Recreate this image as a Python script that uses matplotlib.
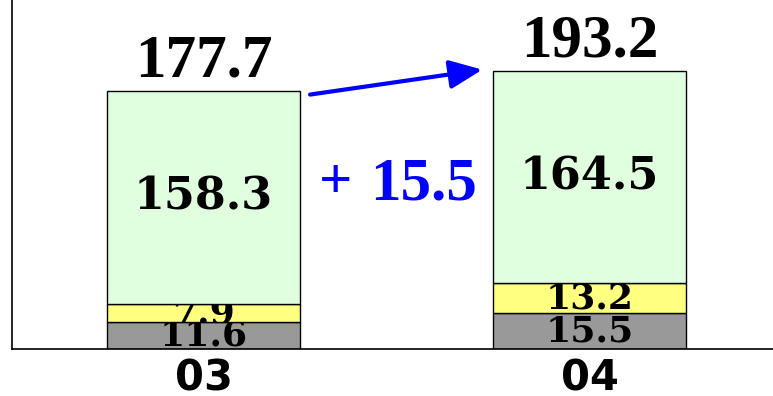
import matplotlib
matplotlib.use("Agg")
import matplotlib.pyplot as plt
import numpy as np
from matplotlib.transforms import TransformedBbox
from matplotlib.ticker import NullLocator

# data
years = ['03', '04']
gray_vals = [11.6, 15.5]
yellow_vals = [7.9, 13.2]
green_vals = [158.3, 164.5]
totals = [177.7, 193.2]

# the original chart stretches the small segments, so use a piecewise scale
B = 28.7
K = 1.784

def fwd(v):
    v = np.asarray(v, dtype=float)
    return np.where(v < B, K * v, K * B + (v - B))

def inv(u):
    u = np.asarray(u, dtype=float)
    return np.where(u < K * B, u / K, B + (u - K * B))

fig = plt.figure(figsize=(7.73, 3.96), dpi=100)
ax = fig.add_axes([12 / 773, 47 / 396, 761 / 773, 349 / 396])
ax.set_yscale('function', functions=(fwd, inv))

x = np.arange(len(years))
w = 0.5
segs = [(gray_vals, '#999999', 26), (yellow_vals, '#FFFF80', 26), (green_vals, '#DFFFDF', 32)]

bottom = np.zeros(len(years))
for vals, col, fs in segs:
    bars = ax.bar(x, vals, w, bottom=bottom, color=col, edgecolor='black', linewidth=1.0, zorder=2)
    for i, p in enumerate(bars):
        lo = bottom[i]
        hi = bottom[i] + vals[i]
        ymid = float(inv((fwd(lo) + fwd(hi)) / 2))
        t = ax.text(x[i], ymid, f'{vals[i]:.1f}', ha='center', va='center', fontsize=fs,
                    family='DejaVu Serif', weight='bold', color='black', zorder=3)
        # labels are cut to their own segment, as in the original
        t.set_clip_box(TransformedBbox(p.get_bbox(), ax.transData))
        t.set_clip_on(True)
    bottom = bottom + np.array(vals)

for i, tot in enumerate(totals):
    ax.annotate(f'{tot:.1f}', (x[i], tot), xytext=(0, 1), textcoords='offset points',
                ha='center', va='bottom', fontsize=44, family='Liberation Serif',
                weight='bold', color='black', annotation_clip=False)

# change arrow + label
ax.annotate('', xy=(0.722, totals[1] + 0.8), xytext=(0.276, totals[0] - 3),
            arrowprops=dict(arrowstyle='-|>,head_length=0.5,head_width=0.22', color='#0000FF',
                            lw=3, mutation_scale=40, shrinkA=0, shrinkB=0),
            annotation_clip=False)
diff = totals[1] - totals[0]
ax.text(0.343, 105, '+', ha='center', va='center', fontsize=42, family='Liberation Serif',
        weight='bold', color='#0000FF')
ax.text(0.571, 105, f'{diff:.1f}', ha='center', va='center', fontsize=44, family='Liberation Serif',
        weight='bold', color='#0000FF')

ax.set_xlim(-0.496, 1.475)
ax.set_ylim(0, 248)
ax.set_xticks(x, labels=years)
ax.set_yticks([])
ax.yaxis.set_minor_locator(NullLocator())
ax.tick_params(axis='x', length=0, pad=6)
ax.tick_params(axis='y', which='both', left=False)
for lab in ax.get_xticklabels():
    lab.set_fontsize(30)
    lab.set_fontweight('bold')
    lab.set_family('DejaVu Sans')

ax.spines['top'].set_visible(False)
ax.spines['right'].set_visible(False)
ax.spines['left'].set_linewidth(1.2)
ax.spines['bottom'].set_linewidth(1.2)

fig.savefig('out.png', dpi=100)
